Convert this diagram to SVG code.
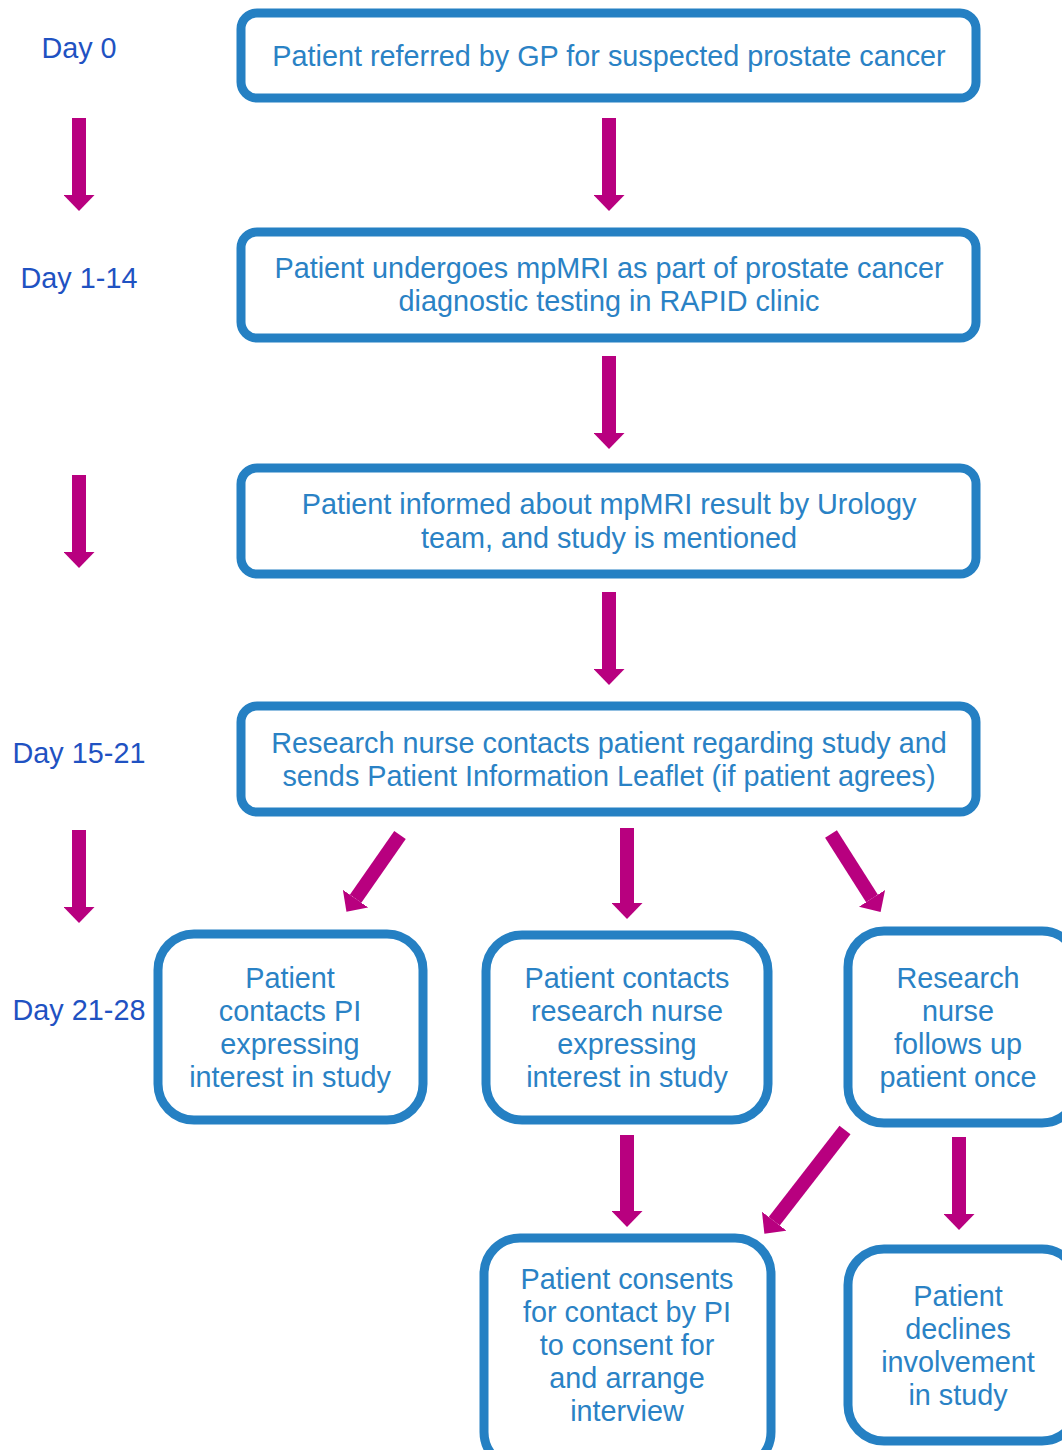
<svg xmlns="http://www.w3.org/2000/svg" width="1062" height="1450" viewBox="0 0 1062 1450">
<style>
.box{fill:#fff;stroke:#2580c3;stroke-width:9}
.t{font-family:"Liberation Sans",Arial,sans-serif;font-size:28.8px;fill:#2a82c5;text-anchor:middle}
.d{font-family:"Liberation Sans",Arial,sans-serif;font-size:28.8px;fill:#1f52c2;text-anchor:middle}
.a{stroke:#b8007f;stroke-width:14;fill:none;marker-end:url(#ah)}
</style>
<defs>
<marker id="ah" markerUnits="userSpaceOnUse" markerWidth="16" markerHeight="31" viewBox="0 0 16 31" refX="0" refY="15.5" orient="auto">
<path d="M0,0 L16,15.5 L0,31 z" fill="#b8007f"/>
</marker>
</defs>
<rect width="1062" height="1450" fill="#fff"/>
<g id="labels">
<text class="d" x="79" y="58">Day 0</text>
<text class="d" x="79" y="288">Day 1-14</text>
<text class="d" x="79" y="763">Day 15-21</text>
<text class="d" x="79" y="1020">Day 21-28</text>
</g>
<g id="n1"><rect class="box" x="241" y="13" width="735" height="85" rx="16"/>
<text class="t" x="609" y="66">Patient referred by GP for suspected prostate cancer</text></g>
<g id="n2"><rect class="box" x="241" y="232" width="735" height="106" rx="16"/>
<text class="t" x="609" y="278">Patient undergoes mpMRI as part of prostate cancer</text>
<text class="t" x="609" y="311">diagnostic testing in RAPID clinic</text></g>
<g id="n3"><rect class="box" x="241" y="468" width="735" height="106" rx="16"/>
<text class="t" x="609" y="514">Patient informed about mpMRI result by Urology</text>
<text class="t" x="609" y="548">team, and study is mentioned</text></g>
<g id="n4"><rect class="box" x="241" y="706" width="735" height="106" rx="16"/>
<text class="t" x="609" y="753">Research nurse contacts patient regarding study and</text>
<text class="t" x="609" y="786">sends Patient Information Leaflet (if patient agrees)</text></g>
<g id="n5"><rect class="box" x="158" y="934" width="265" height="186" rx="36"/>
<text class="t" x="290" y="988">Patient</text>
<text class="t" x="290" y="1021">contacts PI</text>
<text class="t" x="290" y="1054">expressing</text>
<text class="t" x="290" y="1087">interest in study</text></g>
<g id="n6"><rect class="box" x="486" y="935" width="282" height="185" rx="36"/>
<text class="t" x="627" y="988">Patient contacts</text>
<text class="t" x="627" y="1021">research nurse</text>
<text class="t" x="627" y="1054">expressing</text>
<text class="t" x="627" y="1087">interest in study</text></g>
<g id="n7"><rect class="box" x="848" y="931" width="230" height="192" rx="36"/>
<text class="t" x="958" y="988">Research</text>
<text class="t" x="958" y="1021">nurse</text>
<text class="t" x="958" y="1054">follows up</text>
<text class="t" x="958" y="1087">patient once</text></g>
<g id="n8"><rect class="box" x="484" y="1238" width="287" height="230" rx="36"/>
<text class="t" x="627" y="1289">Patient consents</text>
<text class="t" x="627" y="1322">for contact by PI</text>
<text class="t" x="627" y="1355">to consent for</text>
<text class="t" x="627" y="1388">and arrange</text>
<text class="t" x="627" y="1421">interview</text></g>
<g id="n9"><rect class="box" x="848" y="1249" width="230" height="192" rx="36"/>
<text class="t" x="958" y="1306">Patient</text>
<text class="t" x="958" y="1339">declines</text>
<text class="t" x="958" y="1372">involvement</text>
<text class="t" x="958" y="1405">in study</text></g>
<g id="connectors">
<line class="a" x1="79" y1="118" x2="79" y2="195"/>
<line class="a" x1="79" y1="475" x2="79" y2="552"/>
<line class="a" x1="79" y1="830" x2="79" y2="907"/>
<line class="a" x1="609" y1="118" x2="609" y2="195"/>
<line class="a" x1="609" y1="356" x2="609" y2="433"/>
<line class="a" x1="609" y1="592" x2="609" y2="669"/>
<line class="a" x1="400" y1="835" x2="355.6" y2="898.7"/>
<line class="a" x1="627" y1="828" x2="627" y2="903"/>
<line class="a" x1="831" y1="834" x2="872" y2="898.4"/>
<line class="a" x1="627" y1="1135" x2="627" y2="1211"/>
<line class="a" x1="845" y1="1130" x2="774.2" y2="1221.2"/>
<line class="a" x1="959" y1="1137" x2="959" y2="1214"/>
</g>
</svg>
